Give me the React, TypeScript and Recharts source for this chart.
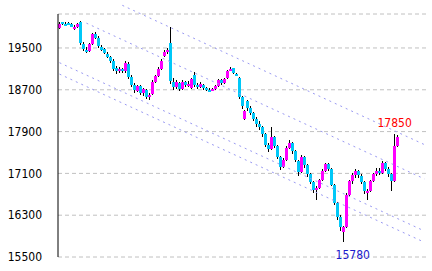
import React from 'react';
import { ComposedChart, Bar, XAxis, YAxis, CartesianGrid, ReferenceLine, ReferenceDot } from 'recharts';

const UP = '#ff00ff';
const DOWN = '#00c8f8';
const TREND = '#9a9af2';
const FONT = "'Liberation Sans Narrow', 'DejaVu Sans Condensed', sans-serif";

// daily candles, left to right
const opens = [
  19880, 19990, 19960, 19970, 19950, 19880, 19900, 19990, 19580, 19470,
  19450, 19580, 19770, 19700, 19520, 19480, 19390, 19330, 19260, 19110,
  19050, 19090, 19050, 19200, 18950, 18800, 18680, 18770, 18640, 18700,
  18560, 18620, 18850, 18960, 19100, 19340, 19440, 19590, 18850, 18760,
  18830, 18720, 18840, 18790, 18730, 18980, 18790, 18750, 18800, 18740,
  18700, 18690, 18720, 18780, 18880, 18830, 18920, 19060, 19110, 19010,
  18920, 18560, 18150, 18480, 18360, 18250, 18150, 18050, 17990, 17850,
  17650, 17560, 17790, 17620, 17420, 17230, 17360, 17580, 17680, 17520,
  17340, 17120, 17420, 17260, 17080, 16940, 16780, 16820, 16970, 17150,
  17280, 17180, 16880, 16540, 16260, 15980, 16080, 16680, 16950, 17060,
  17150, 17050, 16940, 16720, 16760, 16950, 17080, 17150, 17100, 17290,
  17180, 17080, 16950, 17620,
];
const highs = [
  19990, 20000, 19990, 19990, 19970, 19930, 19980, 20010, 19610, 19520,
  19600, 19790, 19800, 19720, 19560, 19500, 19420, 19350, 19280, 19150,
  19130, 19110, 19250, 19230, 18980, 18830, 18800, 18790, 18740, 18720,
  18640, 18880, 18980, 19130, 19280, 19470, 19500, 19900, 18920, 18880,
  18850, 18880, 18870, 18860, 18920, 19040, 18830, 18850, 18820, 18760,
  18730, 18740, 18790, 18900, 18900, 18930, 19080, 19130, 19120, 19030,
  18940, 18580, 18320, 18500, 18380, 18280, 18170, 18100, 18000, 17870,
  17680, 17990, 17810, 17640, 17440, 17400, 17620, 17740, 17700, 17540,
  17360, 17460, 17440, 17280, 17100, 16960, 16860, 17000, 17180, 17300,
  17300, 17200, 16900, 16560, 16300, 16100, 16720, 16980, 17100, 17180,
  17160, 17080, 16960, 16800, 16980, 17110, 17200, 17200, 17330, 17310,
  17220, 17100, 17850, 17830,
];
const lows = [
  19860, 19940, 19930, 19930, 19900, 19840, 19890, 19560, 19440, 19400,
  19430, 19560, 19680, 19500, 19440, 19380, 19300, 19220, 19060, 19000,
  19020, 19020, 19030, 18900, 18760, 18640, 18660, 18600, 18580, 18520,
  18500, 18600, 18830, 18940, 19080, 19320, 19380, 18820, 18700, 18720,
  18680, 18700, 18750, 18760, 18710, 18760, 18720, 18730, 18700, 18680,
  18670, 18680, 18700, 18760, 18800, 18810, 18900, 19050, 19000, 18990,
  18520, 18340, 18120, 18300, 18220, 18100, 17990, 17930, 17800, 17600,
  17510, 17550, 17580, 17380, 17160, 17200, 17340, 17560, 17480, 17320,
  17050, 17100, 17200, 17040, 16900, 16720, 16590, 16800, 16950, 17130,
  17150, 16850, 16500, 16200, 16000, 15780, 16050, 16660, 16900, 17020,
  17020, 16900, 16700, 16600, 16740, 16930, 17050, 17060, 17080, 17150,
  17040, 16760, 16930, 17600,
];
const closes = [
  19960, 19950, 19950, 19940, 19910, 19900, 19960, 19600, 19480, 19440,
  19570, 19760, 19700, 19530, 19470, 19400, 19330, 19260, 19100, 19050,
  19100, 19060, 19220, 18940, 18800, 18690, 18780, 18640, 18710, 18560,
  18600, 18850, 18960, 19100, 19250, 19420, 19460, 18860, 18760, 18840,
  18720, 18840, 18790, 18820, 18900, 18790, 18760, 18810, 18740, 18700,
  18690, 18720, 18770, 18880, 18830, 18910, 19060, 19100, 19020, 19000,
  18560, 18380, 18300, 18360, 18250, 18150, 18050, 17990, 17850, 17650,
  17560, 17800, 17620, 17420, 17230, 17360, 17580, 17680, 17520, 17360,
  17120, 17420, 17260, 17080, 16940, 16780, 16820, 16970, 17150, 17280,
  17180, 16880, 16540, 16260, 16080, 16070, 16680, 16950, 17060, 17150,
  17060, 16940, 16760, 16760, 16950, 17080, 17150, 17100, 17290, 17180,
  17080, 16950, 17620, 17800,
];

const yTicks = [15500, 16300, 17100, 17900, 18700, 19500];
const EMPTY_SLOTS = 9;

// channel lines: start candle / value, end candle / value
const trendFrom = [21, 9, 0, 0];
const trendFromVal = [20316, 19975, 19218, 19000];
const trendTo = [122, 122, 122, 122];
const trendToVal = [17650, 16994, 15997, 15781];

const highMark = { i: 112, v: 17850 };
const lowMark = { i: 95, v: 15780 };

const rows = Array.from({ length: closes.length + EMPTY_SLOTS }, (_, i) =>
  i < closes.length
    ? { i, open: opens[i], high: highs[i], low: lows[i], close: closes[i] }
    : { i, open: null, high: null, low: null, close: null }
);

function Candle(props: any) {
  const { x, y, width, height, payload } = props;
  if (payload == null || payload.open == null || !(height > 0)) return null;
  const { open, close, high, low } = payload;
  const k = height / (high - low);
  const top = y + (high - Math.max(open, close)) * k;
  const bot = y + (high - Math.min(open, close)) * k;
  const bx = Math.round(x);
  const color = close >= open ? UP : DOWN;
  return (
    <g shapeRendering="crispEdges">
      <rect x={bx + 1} y={y} width={1} height={height} fill="#000" />
      <rect x={bx} y={top} width={3} height={Math.max(2, bot - top)} fill={color} />
    </g>
  );
}

const markLabel = (text: string, color: string, dy: number, dx: number) => (p: any) => {
  const vb = p.viewBox || {};
  const cx = vb.x + (vb.width || 0) / 2 + dx;
  const cy = vb.y + (vb.height || 0) / 2 + dy;
  return (
    <text x={cx} y={cy} textAnchor="middle" fill={color} fontSize={12} fontFamily={FONT}>
      {text}
    </text>
  );
};

export default function App() {
  return (
    <div style={{ position: 'absolute', left: 0, top: 0, width: 432, height: 271, background: '#fff' }}>
      <ComposedChart
        width={432}
        height={271}
        data={rows}
        margin={{ top: 14, right: 6, bottom: 14, left: 0 }}
        barCategoryGap={0}
        barGap={0}
      >
        <CartesianGrid vertical={false} stroke="#c0c0c0" strokeDasharray="4 3" />
        <XAxis dataKey="i" type="category" hide />
        <YAxis
          domain={[15500, 20150]}
          ticks={yTicks}
          interval={0}
          allowDataOverflow
          width={58}
          tickSize={0}
          tickMargin={16}
          tickLine={false}
          axisLine={{ stroke: '#000' }}
          tick={{ fill: '#000', fontSize: 12, fontFamily: FONT }}
        />
        {trendFrom.map((s, k) => (
          <ReferenceLine
            key={k}
            segment={[
              { x: s, y: trendFromVal[k] },
              { x: trendTo[k], y: trendToVal[k] },
            ]}
            stroke={TREND}
            strokeDasharray="2 4"
            ifOverflow="visible"
          />
        ))}
        <Bar
          dataKey={(d: any) => (d.open == null ? null : [d.low, d.high])}
          shape={<Candle />}
          isAnimationActive={false}
        />
        <ReferenceDot
          x={highMark.i}
          y={highMark.v}
          r={1}
          fill="none"
          stroke="none"
          label={markLabel(String(highMark.v), '#ff0000', -7, 0)}
        />
        <ReferenceDot
          x={lowMark.i}
          y={lowMark.v}
          r={1}
          fill="none"
          stroke="none"
          label={markLabel(String(lowMark.v), '#1a1acc', 17, 9)}
        />
      </ComposedChart>
    </div>
  );
}
